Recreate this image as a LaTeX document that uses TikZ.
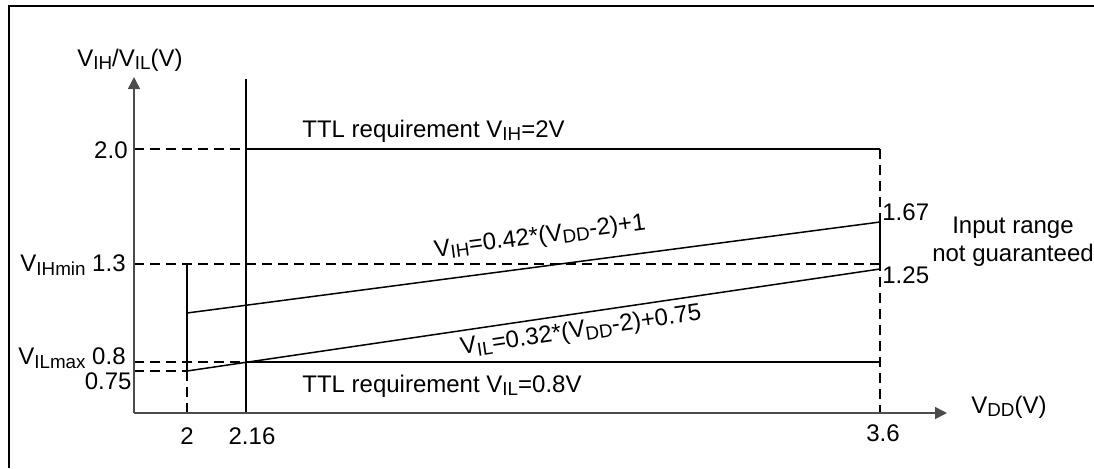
\documentclass[tikz,border=0pt]{standalone}
\usepackage{fontspec}
\setmainfont{Liberation Sans}
\usetikzlibrary{arrows.meta}
\newcommand\sbs[1]{\raisebox{-0.28ex}{\fontsize{9.4pt}{9.4pt}\selectfont #1}}
\tikzset{
  lbl/.style={inner sep=0pt, font=\fontsize{12pt}{14pt}\selectfont},
  axis/.style={draw=black!70, line width=0.75pt, -{Triangle[length=6pt,width=6pt]}},
  curve/.style={draw=black, line width=0.75pt},
  guide/.style={draw=black, line width=0.75pt, dash pattern=on 5pt off 3pt},
  frame/.style={draw=black, line width=1pt}
}
\begin{document}
\begin{tikzpicture}[x=0.5pt, y=-0.5pt]
\useasboundingbox (0,0) rectangle (1094,468);

% outer frame (top and left edges)
\coordinate (fl) at (9,468);
\coordinate (fc) at (9,6);
\coordinate (fr) at (1094,6);
\draw[frame] (fl) -- (fc) -- (fr);

% key points
\coordinate (O) at (134,413);
\coordinate (ytip) at (134,77);
\coordinate (xtip) at (947,413);
\coordinate (y20) at (134,149);
\coordinate (y13) at (134,264);
\coordinate (y08) at (134,362);
\coordinate (y075) at (134,371);
\coordinate (a20) at (246,149);
\coordinate (b20) at (880,149);
\coordinate (a13) at (187,264);
\coordinate (b13) at (880,264);
\coordinate (a08) at (246,362);
\coordinate (b08) at (880,362);
\coordinate (a075) at (187,371);
\coordinate (x2) at (187,413);
\coordinate (x216) at (246,413);
\coordinate (x36) at (880,413);
\coordinate (t216) at (246,79);
\coordinate (ih0) at (187,313);
\coordinate (ih1) at (880,222);
\coordinate (il1) at (880,269);

% dashed guides
\draw[guide] (y20) -- (b20);
\draw[guide] (y13) -- (b13);
\draw[guide] (y08) -- (a08);
\draw[guide] (y075) -- (a075);
\draw[guide] (a075) -- (x2);
\draw[guide] (b20) -- (x36);

% solid lines
\draw[curve] (a20) -- (b20);
\draw[curve] (a08) -- (b08);
\draw[curve] (t216) -- (x216);
\draw[curve] (a13) -- (a075);
\draw[curve] (ih0) -- (ih1);
\draw[curve] (a075) -- (il1);
\draw[curve] (ih1) -- (il1);

% axes
\draw[axis] (O) -- (ytip);
\draw[axis] (O) -- (xtip);

% axis titles
\node[lbl] (ytitle) at (130,60) {V\sbs{IH}/V\sbs{IL}(V)};
\node[lbl, anchor=west] (xtitle) at (971,407) {V\sbs{DD}(V)};

% y tick labels
\node[lbl, anchor=east] (l20) at (128,150) {2.0};
\node[lbl, anchor=east] (l13) at (126,265) {V\sbs{IHmin} 1.3};
\node[lbl, anchor=east] (l08) at (126,358) {V\sbs{ILmax} 0.8};
\node[lbl, anchor=east] (l075) at (132,381) {0.75};

% x tick labels
\node[lbl] (l2) at (187,436) {2};
\node[lbl] (l216) at (252,436) {2.16};
\node[lbl] (l36) at (883,433) {3.6};

% right-side values
\node[lbl, anchor=west] (l167) at (882,212) {1.67};
\node[lbl, anchor=west] (l125) at (882,275) {1.25};
\node[lbl, align=center] (nog) at (1013,242) {Input range\\not guaranteed};

% requirement and formula labels
\node[lbl, anchor=west] (ttlh) at (302,131) {TTL requirement V\sbs{IH}=2V};
\node[lbl, anchor=west] (ttll) at (302,386) {TTL requirement V\sbs{IL}=0.8V};
\node[lbl, rotate=7.5] (fih) at (540,237) {V\sbs{IH}=0.42*(V\sbs{DD}-2)+1};
\node[lbl, rotate=8.4] (fil) at (581,331) {V\sbs{IL}=0.32*(V\sbs{DD}-2)+0.75};
\end{tikzpicture}
\end{document}
